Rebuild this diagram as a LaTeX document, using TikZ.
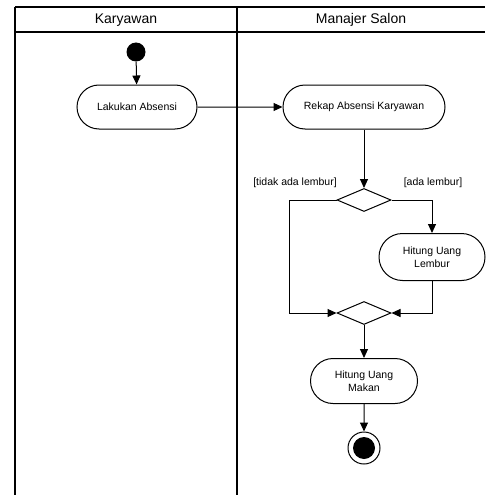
\documentclass[tikz,border=0pt]{standalone}
\usepackage{fontspec}
\setmainfont{Liberation Sans}
\usetikzlibrary{shapes.misc,shapes.geometric,arrows.meta}
\begin{document}
\begin{tikzpicture}[x=1pt,y=-1pt,
  lane/.style={line width=1.6pt},
  action/.style={draw, line width=1pt, rounded rectangle, minimum height=44pt,
    inner sep=0pt, align=center, font=\fontsize{10.5}{12.5}\selectfont},
  choice/.style={draw, line width=1pt, diamond, minimum width=54pt, minimum height=23pt,
    inner sep=0pt, aspect=2.3},
  guard/.style={font=\fontsize{10.5}{12.5}\selectfont},
  flow/.style={line width=1pt, -{Triangle[length=9pt,width=8pt]}}]
\useasboundingbox (0,0) rectangle (485,495);
% swimlanes
\draw[lane] (15,7) -- (485,7);
\draw[lane] (15,32) -- (485,32);
\draw[lane] (15,7) -- (15,495);
\draw[lane] (237,7) -- (237,495);
\node[font=\fontsize{14}{16}\selectfont] (hk) at (126,20) {Karyawan};
\node[font=\fontsize{14}{16}\selectfont] (hm) at (361,20) {Manajer Salon};
% nodes
\node[circle, fill=black, minimum size=19pt, inner sep=0pt] (start) at (136,52) {};
\node[action, minimum width=120pt] (absen) at (137,107) {Lakukan Absensi};
\node[action, minimum width=162pt] (rekap) at (364,107) {Rekap Absensi Karyawan};
\node[choice] (d1) at (364,200) {};
\node[action, minimum width=106pt, minimum height=47pt] (lembur) at (432,257) {Hitung Uang\\Lembur};
\node[choice] (d2) at (364,313) {};
\node[action, minimum width=107pt, minimum height=45pt] (makan) at (364,381) {Hitung Uang\\Makan};
\node[circle, draw, line width=1pt, minimum size=32pt, inner sep=0pt] (end) at (364,448) {};
\node[circle, fill=black, minimum size=22pt, inner sep=0pt] (endin) at (end) {};
\coordinate (lt) at (289,200);
\coordinate (lb) at (289,313);
\coordinate (rt) at (432,200);
\coordinate (rb) at (432,313);
% guards
\node[guard] (g1) at (295,183) {[tidak ada lembur]};
\node[guard] (g2) at (433,183) {[ada lembur]};
% flows
\draw[flow] (start) -- (absen);
\draw[flow] (absen) -- (rekap);
\draw[flow] (rekap) -- (d1);
\draw[flow] (d1.west) -- (lt) -- (lb) -- (d2.west);
\draw[flow] (d1.east) -- (rt) -- (lembur.north);
\draw[flow] (lembur.south) -- (rb) -- (d2.east);
\draw[flow] (d2) -- (makan);
\draw[flow] (makan) -- (end);
\end{tikzpicture}
\end{document}
